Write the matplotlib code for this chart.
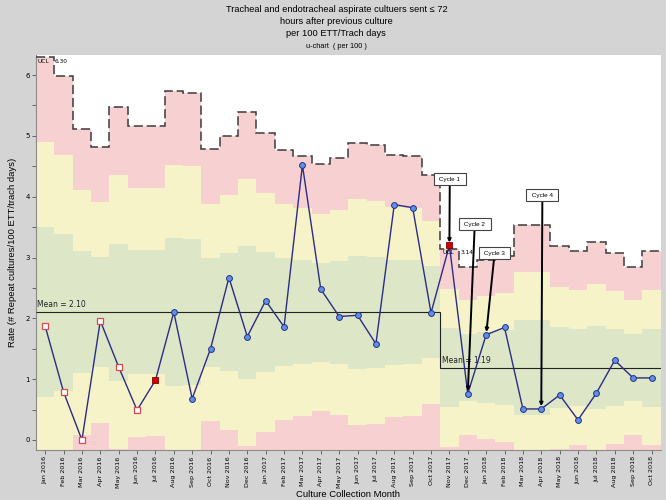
import matplotlib.pyplot as plt
import numpy as np
import pandas as pd

# months Jan 2016 .. Oct 2018
months = pd.date_range('2016-01-01', '2018-10-01', freq='MS').strftime('%b %Y').tolist()

rate = [1.87, 0.79, 0.00, 1.96, 1.20, 0.49, 0.98, 2.10, 0.68, 1.50, 2.67, 1.70,
        2.29, 1.86, 4.52, 2.48, 2.03, 2.05, 1.58, 3.87, 3.82, 2.09,
        3.20, 0.76, 1.73, 1.85, 0.51, 0.51, 0.74, 0.33, 0.77, 1.31, 1.02, 1.02]

ucl = [6.30, 5.98, 5.12, 4.82, 5.48, 5.17, 5.16, 5.74, 5.70, 4.78, 5.00, 5.39,
       5.05, 4.76, 4.67, 4.53, 4.63, 4.89, 4.85, 4.69, 4.67, 4.36,
       3.14, 2.85, 2.96, 3.02, 3.54, 3.54, 3.19, 3.10, 3.25, 3.07, 2.85, 3.11]

center = [2.10] * 22 + [1.19] * 12

open_squares = [0, 1, 2, 3, 4, 5]
red_squares = [6, 22]

cycles = ['Cycle 1', 'Cycle 2', 'Cycle 3', 'Cycle 4']
cycle_month = [22, 23, 24, 27]
cycle_box = [(22.02, 4.29), (23.38, 3.55), (24.46, 3.07), (27.06, 4.02)]

# zone colours
c_red = '#f7d0d1'
c_yel = '#f6f3c8'
c_grn = '#dde6c6'
navy = '#2b2d84'

x = np.arange(len(months))
u = np.array(ucl)
m = np.array(center)
sig = (u - m) / 3.0

fig = plt.figure(figsize=(6.66, 5), dpi=100, facecolor='#d4d4d4')
ax = fig.add_axes([36 / 666, 50 / 500, 624.7 / 666, 395 / 500])
ax.set_facecolor('white')

# sigma zones (bars one month wide)
zones = [(m + 2 * sig, u, c_red), (m + sig, m + 2 * sig, c_yel),
         (m - sig, m + sig, c_grn), (m - 2 * sig, m - sig, c_yel),
         (m - 3 * sig, m - 2 * sig, c_red)]
for lo, hi, col in zones:
    ax.bar(x, hi - lo, bottom=lo, width=1.0, color=col, linewidth=0, zorder=1)

edges = np.arange(-0.5, len(months))
ax.stairs(u, edges, baseline=None, color='#3a3a3a', lw=1.1,
          linestyle=(0, (6, 2.5)), zorder=3)
ax.stairs(m, edges, baseline=None, color='#222222', lw=0.8, zorder=3)

# data line + markers
ax.plot(x, rate, color=navy, lw=1.0, zorder=4)
circ = [i for i in x if i not in open_squares and i not in red_squares]
ax.plot(x[circ], np.array(rate)[circ], 'o', ms=4.2, mfc='#5b92e5', mec=navy,
        mew=0.7, zorder=5)
ax.plot(x[open_squares], np.array(rate)[open_squares], 's', ms=5, mfc='white',
        mec='#d9474f', mew=0.9, zorder=5)
ax.plot(x[red_squares], np.array(rate)[red_squares], 's', ms=5, mfc='#d00000',
        mec='#8a0000', mew=0.6, zorder=5)

# labels inside plot
ax.text(-0.42, center[0] + 0.05, 'Mean = 2.10', fontsize=5.5, va='bottom',
        ha='left', color='#222222', zorder=6)
ax.text(21.6, center[-1] + 0.05, 'Mean = 1.19', fontsize=5.5, va='bottom',
        ha='left', color='#222222', zorder=6)
ax.text(-0.42, ucl[0] - 0.07, 'UCL', fontsize=4.2, va='center', ha='left', zorder=6)
ax.text(0.5, ucl[0] - 0.07, '6.30', fontsize=4.2, va='center', ha='left', zorder=6)
ax.text(21.62, ucl[22] - 0.06, 'UCL', fontsize=4.2, va='center', ha='left', zorder=6)
ax.text(22.6, ucl[22] - 0.06, '3.14', fontsize=4.2, va='center', ha='left', zorder=6)

for name, mi, (bx, by) in zip(cycles, cycle_month, cycle_box):
    ax.annotate(' ' + name + ' ', xy=(mi, rate[mi]), xytext=(bx, by),
                fontsize=4.6, family='Liberation Sans', ha='center', va='center',
                bbox=dict(boxstyle='square,pad=0.55', fc='white', ec='#444444', lw=0.8),
                arrowprops=dict(arrowstyle='->', color='black', lw=1.4,
                                shrinkA=0, shrinkB=2),
                zorder=7)

ax.set_xlim(-0.5, len(months) - 0.5)
ax.set_ylim(-0.165, 6.33)
ax.set_xticks(x)
ax.set_xticklabels(months, rotation=90, fontsize=4.6)
ax.set_yticks(range(7))
ax.set_yticklabels([str(v) for v in range(7)], fontsize=5)
ax.set_yticks(np.arange(0.5, 6.5, 1.0), minor=True)
ax.tick_params(axis='both', which='both', length=3, width=0.6, color='#555555',
               pad=1.5)
for s in ['top', 'right']:
    ax.spines[s].set_visible(False)
for s in ['left', 'bottom']:
    ax.spines[s].set_color('#8a8a8a')
    ax.spines[s].set_linewidth(0.8)

ax.set_xlabel('Culture Collection Month', fontsize=6.8, family='Liberation Sans',
              labelpad=1.5)
ax.set_ylabel('Rate (# Repeat cultures/100 ETT/trach days)', fontsize=6.8,
              family='Liberation Sans', labelpad=6)

title_font = 'Liberation Sans'
fig.text(0.505, 1 - 9.5 / 500, 'Tracheal and endotracheal aspirate cultuers sent \u2264 72',
         ha='center', va='center', fontsize=6.7, family=title_font)
fig.text(0.505, 1 - 21.5 / 500, 'hours after previous culture',
         ha='center', va='center', fontsize=6.7, family=title_font)
fig.text(0.505, 1 - 33.5 / 500, 'per 100 ETT/Trach days',
         ha='center', va='center', fontsize=6.7, family=title_font)
fig.text(0.505, 1 - 46.5 / 500, 'u-chart  ( per 100 )',
         ha='center', va='center', fontsize=5.3, family='Liberation Sans')

fig.savefig('out.png', dpi=100, facecolor=fig.get_facecolor())
